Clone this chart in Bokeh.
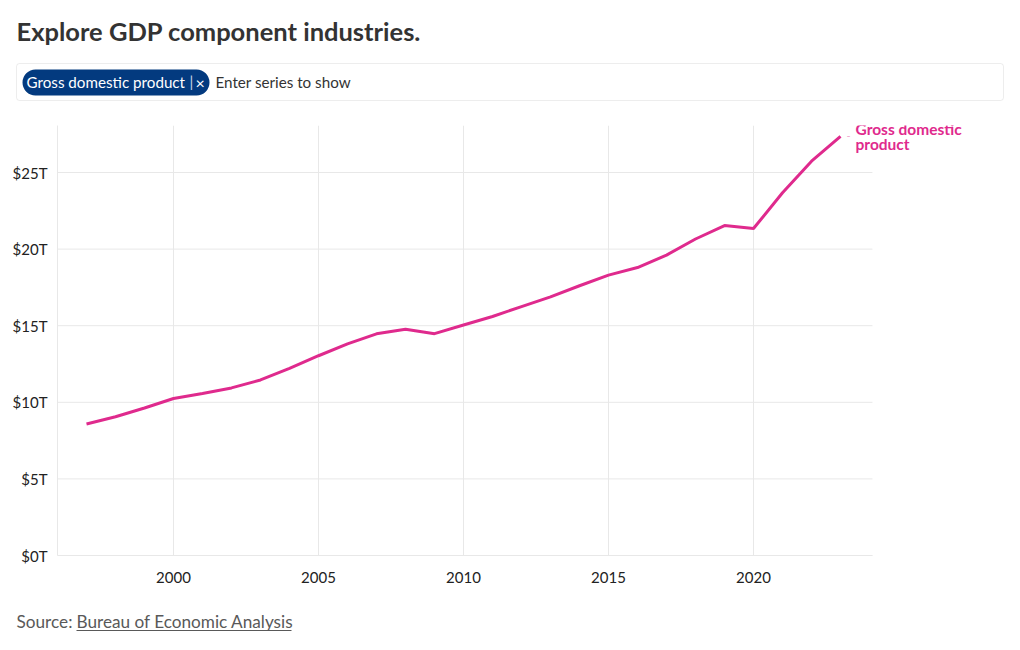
from bokeh.plotting import figure
from bokeh.models import Range1d, FixedTicker, BoxAnnotation, Label
from bokeh.core.properties import value
from bokeh.embed import file_html
from bokeh.resources import INLINE

years = [1997, 1998, 1999, 2000, 2001, 2002, 2003, 2004, 2005, 2006, 2007, 2008, 2009,
         2010, 2011, 2012, 2013, 2014, 2015, 2016, 2017, 2018, 2019, 2020, 2021, 2022, 2023]
gdp_trillions = [8.58, 9.06, 9.63, 10.25, 10.58, 10.94, 11.46, 12.21, 13.04, 13.81, 14.47, 14.77, 14.48,
                 15.05, 15.60, 16.25, 16.88, 17.61, 18.30, 18.80, 19.61, 20.66, 21.54, 21.35, 23.68, 25.74, 27.36]
series_name = "Gross domestic product"
x_ticks = [2000, 2005, 2010, 2015, 2020]
y_ticks = [0, 5, 10, 15, 20, 25]
y_tick_labels = ["$0T", "$5T", "$10T", "$15T", "$20T", "$25T"]
title_text = "Explore GDP component industries."
placeholder = "Enter series to show"
source_prefix = "Source:"
source_name = "Bureau of Economic Analysis"

FONT = "Lato"
PINK = "#df2a8d"
NAVY = "#033a7f"
GRID = "#e8e8e8"
W = 1020
X0, X1 = 1996.0, 2024.1      # visible chart extent
Y1 = 28.07

def blank(h):
    f = figure(width=W, height=h, x_range=Range1d(0, W), y_range=Range1d(h, 0),
               output_backend="svg", toolbar_location=None, min_border=0,
               x_axis_location=None, y_axis_location=None)
    f.grid.visible = False
    f.outline_line_color = None
    return f

# Header
head = blank(113)
head.text(x=[16], y=[30], text=[title_text], text_font=value(FONT), text_font_size="25.5px",
          text_font_style="bold", text_color="#333333", text_baseline="middle")
head.add_layout(BoxAnnotation(left=16, right=1003, top=63, bottom=100, fill_color="white",
                              line_color="#c4c4c4", line_width=1, border_radius=3, level="underlay"))
head.add_layout(BoxAnnotation(left=22, right=209, top=69, bottom=95, fill_color=NAVY,
                              fill_alpha=1, line_color=None, border_radius=13, level="underlay"))
head.text(x=[26], y=[81], text=[series_name], text_font=value(FONT), text_font_size="15.2px",
          text_color="white", text_baseline="middle")
head.text(x=[189], y=[80], text=["|"], text_font=value(FONT), text_font_size="15px",
          text_color="#c9d3e6", text_baseline="middle")
head.text(x=[195], y=[82], text=["×"], text_font=value(FONT), text_font_size="16px",
          text_color="white", text_baseline="middle")
head.text(x=[215], y=[81], text=[placeholder], text_font=value(FONT), text_font_size="15.2px",
          text_color="#333333", text_baseline="middle")

# Main chart (frame extended to the right so the end label is not clipped)
p = figure(width=W, height=487, x_range=Range1d(X0, 2028.93), y_range=Range1d(0, Y1),
           output_backend="svg", toolbar_location=None,
           min_border_left=57, min_border_right=8, min_border_top=12, min_border_bottom=45)
p.outline_line_color = None
p.ygrid.visible = False
p.segment(x0=[X0] * len(y_ticks), x1=[X1] * len(y_ticks), y0=y_ticks, y1=y_ticks,
          line_color=GRID, line_width=1)
p.line(years, gdp_trillions, line_color=PINK, line_width=3)
p.add_layout(Label(x=years[-1], y=gdp_trillions[-1], text=series_name.replace(" product", "\nproduct"),
                   x_offset=15, y_offset=0, text_font=FONT, text_font_size="15.5px", text_font_style="bold",
                   text_color=PINK, text_baseline="middle", text_line_height=0.82))
p.add_layout(Label(x=years[-1], y=gdp_trillions[-1], text="-", x_offset=6,
                   text_font=FONT, text_font_size="11px", text_color="#f0a8cf", text_baseline="middle"))

p.xaxis.ticker = FixedTicker(ticks=x_ticks)
p.yaxis.ticker = FixedTicker(ticks=y_ticks)
p.yaxis.major_label_overrides = {t: l for t, l in zip(y_ticks, y_tick_labels)}
p.xaxis.bounds = (X0, X1)
for ax in (p.xaxis, p.yaxis):
    ax.axis_line_color = GRID
    ax.major_tick_line_color = None
    ax.minor_tick_line_color = None
    ax.major_label_text_font = FONT
    ax.major_label_text_font_size = "15px"
    ax.major_label_text_color = "#222222"
p.xaxis.major_label_standoff = 10
p.yaxis.major_label_standoff = 4
p.xgrid.grid_line_color = GRID

# Footer
foot = blank(42)
foot.text(x=[16], y=[21], text=[source_prefix], text_font=value(FONT), text_font_size="17.2px",
          text_color="#595959", text_baseline="middle")
foot.text(x=[76], y=[21], text=[source_name], text_font=value(FONT), text_font_size="17.2px",
          text_color="#595959", text_baseline="middle")
foot.segment(x0=[76], y0=[30], x1=[291], y1=[30], line_color="#595959", line_width=1)

open("out.html", "w").write(file_html([head, p, foot], INLINE))
